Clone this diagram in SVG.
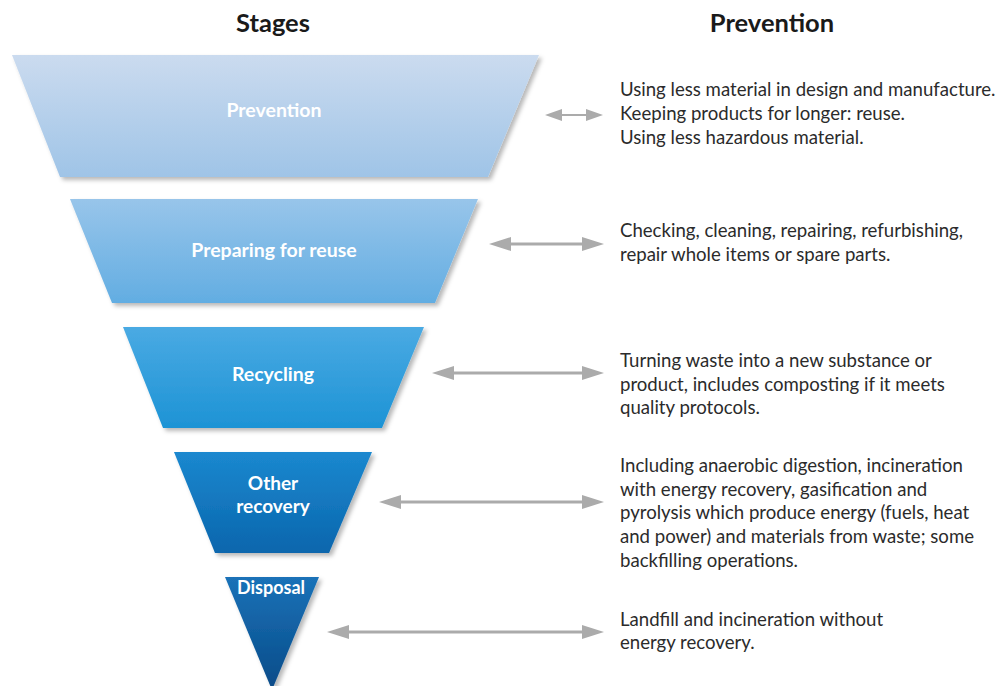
<svg xmlns="http://www.w3.org/2000/svg" width="1001" height="686" viewBox="0 0 1001 686">
  <style>
    .hdr { font-family: Lato, "Liberation Sans", sans-serif; font-weight: 700; font-size: 25.5px; fill: #1a1a1a; text-anchor: middle; }
    .lbl { font-family: Lato, "Liberation Sans", sans-serif; font-weight: 700; font-size: 19.5px; fill: #ffffff; text-anchor: middle; }
    .desc { font-family: Lato, "Liberation Sans", sans-serif; font-size: 18.6px; fill: #2b2b2b; }
    .conn { stroke: #ababab; stroke-width: 3; fill: none; }
    .conn1 { stroke: #ababab; stroke-width: 2; fill: none; }
  </style>
  <defs>
    <filter id="sh" x="-10%" y="-10%" width="125%" height="125%">
      <feDropShadow dx="3" dy="3" stdDeviation="2" flood-color="#000" flood-opacity="0.28"/>
    </filter>
    <linearGradient id="g1" x1="0" y1="0" x2="0" y2="1">
      <stop offset="0" stop-color="#cbdbef"/>
      <stop offset="1" stop-color="#9fc4e7"/>
    </linearGradient>
    <linearGradient id="g2" x1="0" y1="0" x2="0" y2="1">
      <stop offset="0" stop-color="#98c5ea"/>
      <stop offset="1" stop-color="#62ade2"/>
    </linearGradient>
    <linearGradient id="g3" x1="0" y1="0" x2="0" y2="1">
      <stop offset="0" stop-color="#4aaae3"/>
      <stop offset="1" stop-color="#1d93d5"/>
    </linearGradient>
    <linearGradient id="g4" x1="0" y1="0" x2="0" y2="1">
      <stop offset="0" stop-color="#1b88cf"/>
      <stop offset="1" stop-color="#0a66ad"/>
    </linearGradient>
    <linearGradient id="g5" x1="0" y1="0" x2="0" y2="1">
      <stop offset="0" stop-color="#1a72b8"/>
      <stop offset="1" stop-color="#084b88"/>
    </linearGradient>
    <marker id="ah" markerUnits="userSpaceOnUse" markerWidth="22" markerHeight="14" refX="12" refY="7" orient="auto-start-reverse" viewBox="0 0 22 14">
      <path d="M0,0 L22,7 L0,14 z" fill="#ababab"/>
    </marker>
    <marker id="ahs" markerUnits="userSpaceOnUse" markerWidth="17" markerHeight="12" refX="9" refY="6" orient="auto-start-reverse" viewBox="0 0 17 12">
      <path d="M0,0 L17,6 L0,12 z" fill="#ababab"/>
    </marker>
  </defs>

  <rect width="1001" height="686" fill="#ffffff"/>

  <text class="hdr" x="273" y="32">Stages</text>
  <text class="hdr" x="772" y="32">Prevention</text>

  <g id="stage-prevention">
    <polygon points="12,55 539,55 488,177 60,177" fill="url(#g1)" filter="url(#sh)"/>
    <text class="lbl" x="274" y="117">Prevention</text>
  </g>
  <g id="stage-preparing">
    <polygon points="70,199 478,199 435,303 112,303" fill="url(#g2)" filter="url(#sh)"/>
    <text class="lbl" x="274" y="257">Preparing for reuse</text>
  </g>
  <g id="stage-recycling">
    <polygon points="123,327 424,327 382,428 163,428" fill="url(#g3)" filter="url(#sh)"/>
    <text class="lbl" x="273" y="381">Recycling</text>
  </g>
  <g id="stage-other">
    <polygon points="174,452 372,452 329,553 215,553" fill="url(#g4)" filter="url(#sh)"/>
    <text class="lbl" x="273" y="490" style="font-size:19px">Other</text>
    <text class="lbl" x="273" y="513" style="font-size:19px">recovery</text>
  </g>
  <g id="stage-disposal">
    <polygon points="225,577 319,577 272,690" fill="url(#g5)" filter="url(#sh)"/>
    <text class="lbl" x="271" y="594" style="font-size:18px">Disposal</text>
  </g>

  <g id="connectors">
    <line class="conn1" x1="553" y1="115" x2="595" y2="115" marker-start="url(#ahs)" marker-end="url(#ahs)"/>
    <line class="conn" x1="499" y1="244" x2="594" y2="244" marker-start="url(#ah)" marker-end="url(#ah)"/>
    <line class="conn" x1="442" y1="373" x2="594" y2="373" marker-start="url(#ah)" marker-end="url(#ah)"/>
    <line class="conn" x1="389" y1="502" x2="594" y2="502" marker-start="url(#ah)" marker-end="url(#ah)"/>
    <line class="conn" x1="337" y1="632" x2="594" y2="632" marker-start="url(#ah)" marker-end="url(#ah)"/>
  </g>

  <g id="desc-prevention">
    <text class="desc" x="620" y="96">Using less material in design and manufacture.</text>
    <text class="desc" x="620" y="120">Keeping products for longer: reuse.</text>
    <text class="desc" x="620" y="144">Using less hazardous material.</text>
  </g>
  <g id="desc-preparing">
    <text class="desc" x="620" y="237">Checking, cleaning, repairing, refurbishing,</text>
    <text class="desc" x="620" y="261">repair whole items or spare parts.</text>
  </g>
  <g id="desc-recycling">
    <text class="desc" x="620" y="367">Turning waste into a new substance or</text>
    <text class="desc" x="620" y="391">product, includes composting if it meets</text>
    <text class="desc" x="620" y="414">quality protocols.</text>
  </g>
  <g id="desc-other">
    <text class="desc" x="620" y="472">Including anaerobic digestion, incineration</text>
    <text class="desc" x="620" y="496">with energy recovery, gasification and</text>
    <text class="desc" x="620" y="519">pyrolysis which produce energy (fuels, heat</text>
    <text class="desc" x="620" y="543">and power) and materials from waste; some</text>
    <text class="desc" x="620" y="567">backfilling operations.</text>
  </g>
  <g id="desc-disposal">
    <text class="desc" x="620" y="626">Landfill and incineration without</text>
    <text class="desc" x="620" y="649">energy recovery.</text>
  </g>
</svg>
